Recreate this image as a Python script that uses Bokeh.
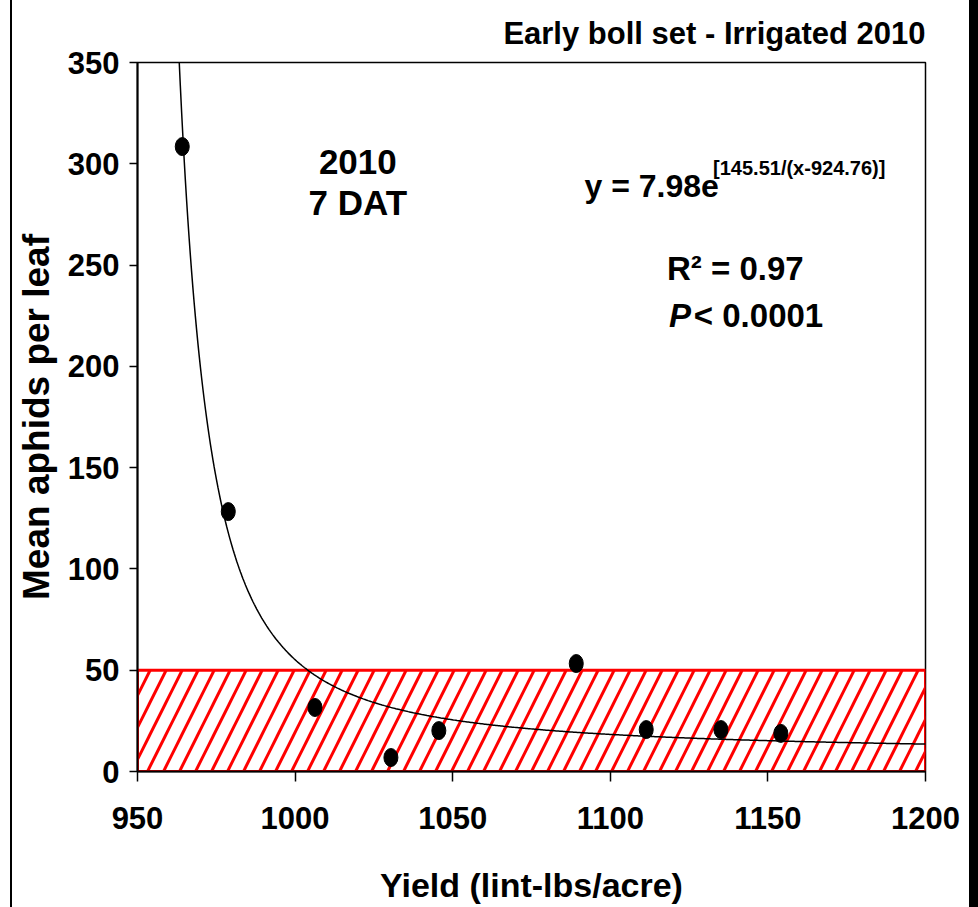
import numpy as np
from bokeh.plotting import figure
from bokeh.models import Range1d, Label, FixedTicker, Div
from bokeh.layouts import row
from bokeh.embed import file_html
from bokeh.resources import INLINE

# ---- data ----
yield_lint = [964.2, 978.8, 1006.3, 1030.4, 1045.6, 1089.2, 1111.4, 1135.1, 1154.1]
mean_aphids = [308.5, 128.3, 31.6, 6.9, 20.2, 53.3, 20.7, 20.7, 18.8]

# fitted model shown on chart: y = a * exp(b / (x - c))
fit_a = 7.98
fit_b = 145.51
fit_c = 924.76

threshold_low = 0
threshold_high = 50

x_ticks = [950, 1000, 1050, 1100, 1150, 1200]
y_ticks = [0, 50, 100, 150, 200, 250, 300, 350]

title_text = "Early boll set - Irrigated 2010"
x_label = "Yield (lint-lbs/acre)"
y_label = "Mean aphids per leaf"

FONT = "Liberation Sans"

p = figure(width=957, height=907, output_backend="svg", toolbar_location=None,
           x_range=Range1d(x_ticks[0], x_ticks[-1]), y_range=Range1d(y_ticks[0], y_ticks[-1]),
           min_border_left=123, min_border_right=44, min_border_top=62, min_border_bottom=136,
           margin=(0, 0, 0, 0))
p.background_fill_color = "white"
p.border_fill_color = "white"
p.outline_line_color = "black"
p.outline_line_width = 1.5
p.xgrid.visible = False
p.ygrid.visible = False

# title
p.title.text = title_text
p.title.align = "right"
p.title.text_font = FONT
p.title.text_font_size = "31px"
p.title.text_font_style = "bold"
p.title.text_color = "black"
p.title.standoff = 24

# axes
for ax in (p.xaxis[0], p.yaxis[0]):
    ax.axis_line_color = "black"
    ax.axis_line_width = 2
    ax.major_tick_line_color = "black"
    ax.major_tick_line_width = 1.5
    ax.major_tick_in = 0
    ax.minor_tick_line_color = None
    ax.major_label_text_font = FONT
    ax.major_label_text_font_style = "bold"
    ax.major_label_text_font_size = "31px"
    ax.major_label_text_color = "black"
    ax.axis_label_text_font = FONT
    ax.axis_label_text_font_style = "bold"
    ax.axis_label_text_color = "black"

p.xaxis.ticker = FixedTicker(ticks=x_ticks)
p.yaxis.ticker = FixedTicker(ticks=y_ticks)
p.xaxis.major_tick_out = 10
p.yaxis.major_tick_out = 8
p.xaxis.major_label_standoff = 25
p.yaxis.major_label_standoff = 10
p.xaxis.axis_label = x_label
p.yaxis.axis_label = y_label
p.xaxis.axis_label_text_font_size = "34px"
p.yaxis.axis_label_text_font_size = "37px"
p.xaxis.axis_label_standoff = 34
p.yaxis.axis_label_standoff = 8

# hatched threshold band
p.quad(left=[x_ticks[0]], right=[x_ticks[-1]], bottom=[threshold_low], top=[threshold_high],
       fill_color=None, line_color="#ff0000", line_width=3,
       hatch_pattern="/", hatch_color="#ff0000", hatch_weight=3, hatch_scale=32)

# fitted curve
xs = np.linspace(962.0, x_ticks[-1], 600)
ys = fit_a * np.exp(fit_b / (xs - fit_c))
p.line(xs, ys, line_color="black", line_width=1.5)

# data points
p.ellipse(x=yield_lint, y=mean_aphids, width=14, height=18,
          width_units="screen", height_units="screen",
          fill_color="black", line_color="black")

def add_label(text, x, y, size, style="bold", align="left"):
    p.add_layout(Label(x=x, y=y, text=text, text_font=FONT, text_font_size=size,
                       text_font_style=style, text_color="black", text_align=align,
                       text_baseline="alphabetic"))

add_label("2010", 1019.9, 301, "35px", align="center")
add_label("7 DAT", 1019.9, 281, "35px", align="center")
add_label("y = 7.98e", 1091.8, 289, "32px")
add_label("[145.51/(x-924.76)]", 1132.6, 298, "20px")
add_label("R\u00b2 = 0.97", 1118.0, 248.3, "33px")
add_label("P", 1118.6, 225, "33px", style="bold italic")
add_label("< 0.0001", 1126.5, 225, "33px")

left_gap = Div(width=10, height=907, margin=(0, 0, 0, 0), styles={"background-color": "white"})
left_line = Div(width=2, height=907, margin=(0, 0, 0, 0), styles={"background-color": "black"})
right_bar = Div(width=9, height=907, margin=(0, 0, 0, 0), styles={"background-color": "black"})

layout = row(left_gap, left_line, p, right_bar, spacing=0, margin=(0, 0, 0, 0))

open("out.html", "w").write(file_html(layout, INLINE))
